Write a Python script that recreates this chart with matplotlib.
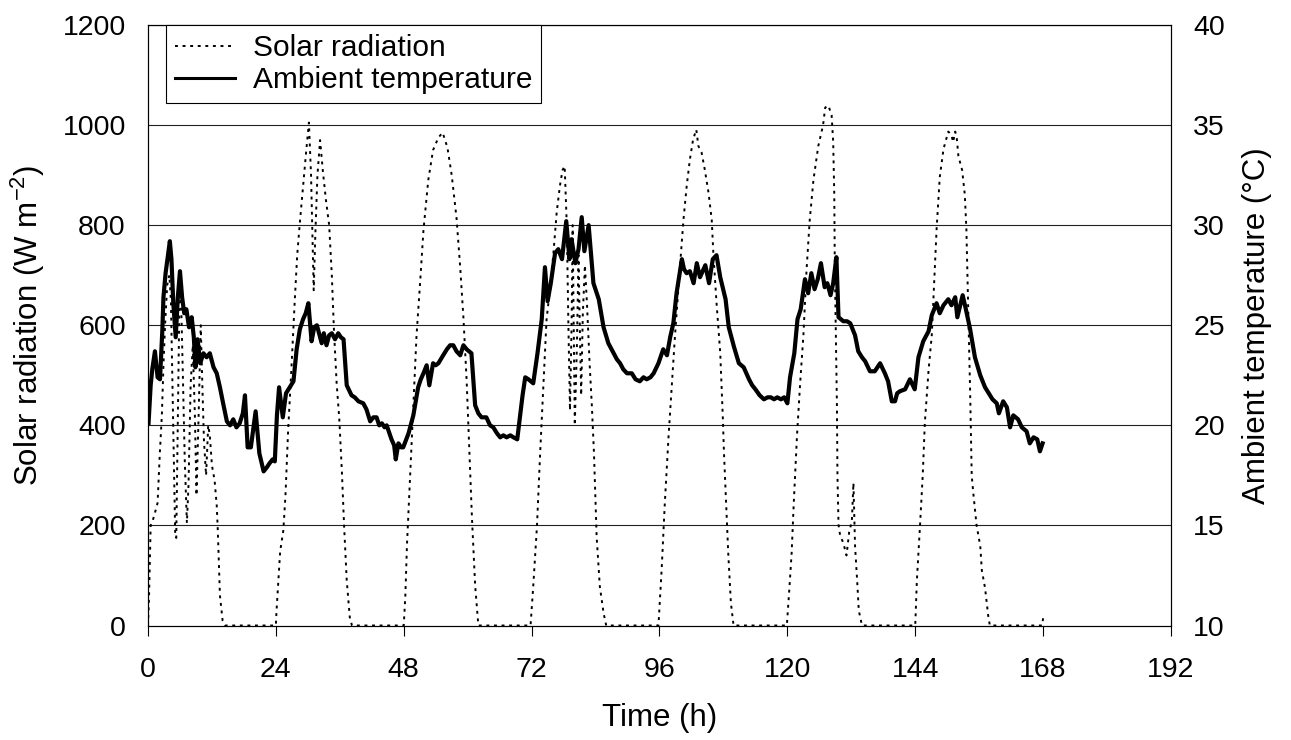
import matplotlib
matplotlib.use("Agg")
import matplotlib.pyplot as plt
from matplotlib.lines import Line2D

plt.rcParams['font.family'] = ['Liberation Sans', 'DejaVu Sans']
plt.rcParams['mathtext.default'] = 'regular'

# ---------------- data ----------------
solar_h = [0.0, 0.2, 0.5, 0.9, 1.3, 1.8, 2.2, 2.6, 2.9, 3.2, 3.6, 4.0, 4.3, 4.7, 5.1, 5.3, 5.6, 5.9, 6.1,
           6.5, 6.9, 7.3, 7.6, 8.0, 8.4, 8.8, 9.1, 9.5, 9.9, 10.2, 10.5, 10.9, 11.3, 11.6, 12.0, 12.5,
           12.9, 13.1, 13.5, 14.0, 14.5,
           24.0, 24.1, 24.8, 25.4, 25.8, 26.3, 26.9, 27.5, 28.0, 28.5, 29.1, 29.7, 30.2, 30.6, 30.9,
           31.1, 31.4, 31.8, 32.3, 32.8, 33.4, 34.0, 34.5, 34.9, 35.4, 35.9, 36.4, 36.8, 37.3, 37.9, 38.3,
           48.0, 48.3, 48.6, 49.2, 49.8, 50.4, 51.1, 51.7, 52.6, 53.5, 54.5, 55.3, 56.2, 57.0, 57.9,
           58.6, 59.2, 59.8, 60.3, 60.8, 61.4, 62.0,
           71.8, 72.3, 73.0, 73.6, 74.2, 74.8, 75.5, 76.1, 76.7, 77.3, 77.8, 78.2, 78.6, 78.9, 79.2,
           79.5, 79.7, 79.9, 80.1, 80.5, 80.8, 81.0, 81.3, 81.6, 82.0, 82.4, 82.9, 83.3, 83.7, 84.2,
           84.8, 85.5, 86.0,
           95.8, 96.4, 97.0, 97.7, 98.3, 98.9, 99.8, 100.5, 101.1, 101.7, 102.3, 102.9, 103.3, 103.9,
           104.5, 105.2, 105.8, 106.1, 106.7, 107.4, 107.9, 108.1, 108.5, 108.9, 109.4, 109.9,
           119.9, 120.4, 120.8, 121.2, 121.8, 122.4, 123.0, 123.6, 124.2, 124.9, 125.8, 126.7, 127.1,
           127.7, 128.3, 128.6, 128.8, 128.9, 129.1, 129.3, 129.4, 129.6, 129.9, 130.5, 131.1, 131.6,
           132.1, 132.4, 132.7, 133.1, 133.4, 134.0,
           144.0, 144.3, 144.9, 145.4, 145.8, 146.5, 147.1, 147.4, 148.0, 148.6, 149.3, 150.2, 150.8,
           151.1, 151.5, 151.8, 152.1, 152.8, 153.3, 153.6, 153.9, 154.3, 154.6, 154.9, 155.5, 156.2,
           156.5, 157.1, 157.7, 158.0, 167.8, 168.0]
solar_w = [0, 60, 200, 210, 225, 245, 340, 420, 520, 600, 680, 700, 650, 420, 185, 175, 420, 650, 700,
           520, 330, 205, 280, 480, 560, 420, 260, 420, 600, 480, 370, 300, 400, 380, 320, 290,
           240, 190, 60, 10, 0,
           0, 25, 148, 190, 260, 390, 510, 640, 740, 805, 877, 949, 1005, 900, 760,
           670, 780, 900, 970, 910, 850, 800, 700, 590, 485, 413, 305, 200, 90, 13, 0,
           0, 60, 160, 300, 440, 580, 690, 790, 890, 950, 975, 985, 955, 900, 815,
           715, 615, 490, 350, 215, 80, 0,
           0, 78, 198, 345, 478, 611, 678, 745, 825, 878, 910, 918, 800, 600, 430,
           600, 800, 600, 400, 560, 740, 620, 460, 620, 720, 640, 520, 440, 345, 178,
           78, 25, 0,
           0, 111, 245, 378, 478, 578, 711, 811, 878, 931, 971, 991, 958, 945,
           911, 865, 811, 745, 645, 545, 411, 345, 245, 145, 45, 0,
           0, 78, 145, 245, 378, 485, 578, 711, 811, 891, 958, 1000, 1035,
           1039, 1020, 966, 861, 720, 580, 439, 299, 201, 180, 165, 140, 187,
           208, 285, 159, 89, 30, 0,
           0, 89, 201, 299, 405, 510, 580, 650, 791, 896, 952, 987, 980,
           966, 987, 973, 938, 910, 861, 791, 650, 467, 299, 264, 201, 159,
           110, 75, 19, 0, 0, 15]

temp_h = [0.1, 0.5, 0.8, 1.3, 1.8, 2.25, 2.7, 2.9, 3.3, 3.7, 4.1, 4.4, 4.75, 5.2, 5.6, 6.0, 6.4, 6.8,
          7.2, 7.7, 8.2, 8.6, 8.9, 9.3, 9.8, 10.4, 11.0, 11.6, 12.3, 12.9, 13.5, 14.1, 14.8, 15.4,
          16.0, 16.6, 17.2, 17.8, 18.2, 18.7, 19.3, 20.2, 20.9, 21.7, 22.3, 22.8, 23.4, 23.8, 24.2,
          24.6, 25.3, 25.9, 26.6, 27.3, 27.9, 28.5, 29.1, 29.6, 30.1, 30.7, 31.2, 31.7, 32.2, 32.6,
          33.0, 33.5, 34.0, 34.5, 35.1, 35.7, 36.2, 36.7, 37.3, 38.2, 38.8, 39.5, 40.4, 41.0, 41.7,
          42.3, 42.9, 43.4, 43.9, 44.4, 44.8, 45.7, 46.2, 46.5, 47.0, 47.5, 47.9, 48.9, 49.8, 50.7,
          51.2, 51.7, 52.3, 52.8, 53.5, 54.0, 54.5, 55.4, 56.1, 56.7, 57.3, 57.9, 58.6, 59.2, 59.8,
          60.7, 61.4, 62.0, 62.6, 63.5, 64.2, 64.8, 65.5, 66.1, 66.7, 67.3, 68.0, 68.6, 69.3, 69.8,
          70.3, 70.8, 71.4, 72.3, 73.1, 73.9, 74.5, 75.0, 75.6, 76.4, 77.0, 77.7, 78.5, 79.1, 79.5,
          80.2, 80.8, 81.4, 81.9, 82.7, 83.6, 84.6, 85.5, 86.4, 87.4, 88.0, 88.6, 89.2, 89.9, 90.8,
          91.5, 92.3, 93.0, 93.6, 94.3, 94.9, 95.8, 96.7, 97.4, 98.0, 98.6, 99.2, 100.2, 100.6, 101.1,
          101.7, 102.4, 103.0, 103.6, 104.6, 105.3, 106.0, 106.7, 107.4, 108.4, 109.0, 110.0, 110.9,
          111.8, 112.8, 113.4, 114.0, 114.8, 115.6, 116.3, 116.9, 117.5, 118.1, 118.8, 119.4, 120.0,
          120.5, 121.3, 121.9, 122.5, 123.3, 123.9, 124.5, 125.1, 125.7, 126.3, 127.0, 127.5, 128.1,
          128.6, 129.2, 129.6, 130.5, 131.2, 131.8, 132.7, 133.3, 134.0, 134.6, 135.5, 136.4, 137.4,
          138.3, 138.9, 139.6, 140.2, 140.6, 141.1, 142.1, 143.0, 143.9, 144.6, 145.5, 146.5, 147.1,
          148.0, 148.6, 149.3, 150.2, 150.8, 151.5, 151.9, 152.9, 153.5, 154.3, 155.2, 156.2, 157.1,
          157.8, 158.5, 159.3, 159.7, 160.5, 161.2, 161.8, 162.4, 163.3, 164.0, 164.9, 165.5, 166.2,
          166.9, 167.4, 167.9]
temp_c = [20.1, 22.0, 22.8, 23.7, 22.4, 22.3, 24.8, 26.4, 27.6, 28.4, 29.2, 28.3, 26.1, 24.4, 26.4, 27.7, 26.4, 25.6,
          25.8, 24.9, 25.4, 24.4, 22.9, 24.3, 23.1, 23.6, 23.4, 23.6, 22.9, 22.6, 21.9, 21.1, 20.2, 20.0,
          20.3, 19.9, 20.1, 20.6, 21.5, 18.9, 18.9, 20.7, 18.6, 17.7, 17.9, 18.1, 18.3, 18.2, 20.5,
          21.9, 20.4, 21.6, 21.9, 22.2, 23.8, 24.8, 25.3, 25.6, 26.1, 24.2, 24.9, 25.0, 24.5, 24.1,
          24.6, 24.0, 24.5, 24.6, 24.3, 24.6, 24.4, 24.3, 22.0, 21.5, 21.4, 21.2, 21.1, 20.8, 20.2,
          20.4, 20.4, 20.0, 20.1, 19.9, 20.0, 19.3, 19.0, 18.3, 19.1, 18.9, 18.9, 19.6, 20.5, 21.9,
          22.3, 22.6, 23.0, 22.0, 23.1, 23.0, 23.1, 23.5, 23.8, 24.0, 24.0, 23.7, 23.5, 24.0, 23.8,
          23.6, 21.0, 20.6, 20.4, 20.4, 20.0, 19.9, 19.6, 19.4, 19.5, 19.4, 19.5, 19.4, 19.3, 20.4,
          21.5, 22.4, 22.3, 22.1, 23.6, 25.3, 27.9, 26.2, 27.1, 28.6, 28.8, 28.3, 30.2, 28.3, 29.3,
          28.1, 28.8, 30.4, 28.7, 30.0, 27.1, 26.3, 24.9, 24.1, 23.6, 23.3, 23.1, 22.8, 22.6, 22.6,
          22.3, 22.2, 22.4, 22.3, 22.4, 22.6, 23.1, 23.8, 23.5, 24.4, 25.1, 26.6, 28.3, 27.8, 27.6,
          27.7, 27.1, 28.1, 27.4, 28.0, 27.1, 28.3, 28.5, 27.4, 26.3, 24.9, 23.9, 23.1,
          22.9, 22.3, 22.0, 21.8, 21.5, 21.3, 21.4, 21.4, 21.3, 21.4, 21.3, 21.4, 21.1,
          22.4, 23.6, 25.3, 25.8, 27.3, 26.6, 27.6, 26.8, 27.3, 28.1, 26.9, 27.1, 26.5,
          27.1, 28.4, 25.4, 25.2, 25.2, 25.1, 24.5, 23.7, 23.4, 23.2, 22.7, 22.7, 23.1,
          22.6, 22.2, 21.2, 21.2, 21.6, 21.7, 21.8, 22.3, 21.8, 23.4, 24.2, 24.7, 25.5,
          26.1, 25.6, 26.0, 26.3, 26.0, 26.4, 25.4, 26.5, 25.8, 24.8, 23.4, 22.5, 21.9,
          21.6, 21.3, 21.1, 20.6, 21.2, 20.9, 19.9, 20.5, 20.3, 19.9, 19.7, 19.1, 19.4,
          19.3, 18.7, 19.1]

x_ticks = [0, 24, 48, 72, 96, 120, 144, 168, 192]
left_ticks = [0, 200, 400, 600, 800, 1000, 1200]
right_ticks = [10, 15, 20, 25, 30, 35, 40]

# ---------------- figure ----------------
W, H = 1291, 740
fig = plt.figure(figsize=(W / 100, H / 100), dpi=100)
ax = fig.add_axes([148 / W, (H - 625.5) / H, (1171 - 148) / W, 600.5 / H])
ax2 = ax.twinx()

tick_fs = 20.5
lab_fs = 22.5
leg_fs = 21.5
dot_style = (0, (1.5, 2.4))

ax.plot(solar_h, solar_w, color='black', lw=1.4, linestyle=dot_style, zorder=3)
ax2.plot(temp_h, temp_c, color='black', lw=3.0, solid_joinstyle='round', zorder=4)

ax.set_xlim(0, 192)
ax.set_ylim(0, 1200)
ax2.set_ylim(10, 40)
ax.set_xticks(x_ticks)
ax.set_yticks(left_ticks)
ax2.set_yticks(right_ticks)

for y in left_ticks[1:]:
    ax.axhline(y, color='#222222', lw=0.8, zorder=1)

for a in (ax, ax2):
    for s in a.spines.values():
        s.set_color('black')
        s.set_linewidth(0.8)
ax.tick_params(axis='x', direction='out', length=7, width=0.8, pad=16, labelsize=tick_fs)
ax.tick_params(axis='y', length=0, pad=16, labelsize=tick_fs)
ax2.tick_params(axis='y', length=0, pad=16, labelsize=tick_fs)

ax.set_xlabel('Time (h)', fontsize=lab_fs, labelpad=14)
ax.set_ylabel('Solar radiation (W m$^{-2}$)', fontsize=lab_fs, labelpad=11)
ax2.set_ylabel('Ambient temperature (°C)', fontsize=lab_fs, labelpad=12)

handles = [Line2D([], [], color='black', lw=1.4, linestyle=dot_style),
           Line2D([], [], color='black', lw=2.2)]
leg = ax2.legend(handles, ['Solar radiation', 'Ambient temperature'], loc='upper left',
                 bbox_to_anchor=(0.0176, 1.0), borderaxespad=0, fontsize=leg_fs,
                 frameon=True, fancybox=False, framealpha=1, edgecolor='black',
                 borderpad=0.3, handlelength=2.0, handletextpad=0.6, labelspacing=0.15)
leg.get_frame().set_linewidth(0.8)
leg.set_zorder(10)

fig.savefig('out.png', dpi=100)
